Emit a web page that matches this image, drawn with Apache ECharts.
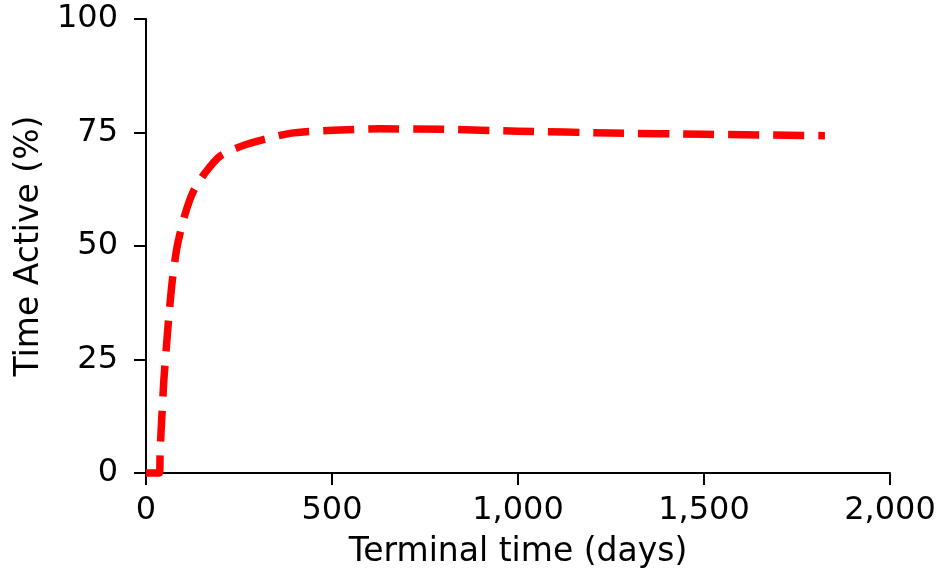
<!DOCTYPE html>
<html><head><meta charset="utf-8">
<script src="https://cdn.jsdelivr.net/npm/echarts@6/dist/echarts.min.js"></script>
<style>html,body{margin:0;padding:0;background:#fff}#c{width:940px;height:578px}</style>
</head><body><div id="c"></div>
<script>
const days = [0, 36, 38, 43, 48, 55, 62, 71, 84, 105, 127, 158, 199, 271, 387, 503, 629, 800, 1000, 1250, 1500, 1825];
const timeActive = [0, 0, 5, 13, 20.5, 28, 35, 42.6, 50, 57, 62, 66, 69.8, 72.4, 74.8, 75.5, 75.8, 75.7, 75.3, 74.9, 74.6, 74.3];
const xTicks = [0, 500, 1000, 1500, 2000];
const yTicks = [0, 25, 50, 75, 100];

const font = 'DejaVu Sans';
const chart = echarts.init(document.getElementById('c'), null, {renderer: 'canvas'});
chart.setOption({
  animation: false,
  backgroundColor: '#fff',
  grid: {left: 146, right: 50, top: 19, bottom: 105, containLabel: false},
  xAxis: {
    type: 'value', min: xTicks[0], max: xTicks[xTicks.length - 1], interval: 500,
    name: 'Terminal time (days)', nameLocation: 'middle', nameGap: 63,
    nameTextStyle: {fontFamily: font, fontSize: 33, color: '#000'},
    axisLine: {show: true, onZero: false, lineStyle: {color: '#000', width: 2}},
    axisTick: {show: true, length: 12, lineStyle: {color: '#000', width: 2}},
    axisLabel: {margin: 22, fontFamily: font, fontSize: 32, color: '#000',
      formatter: v => v.toLocaleString('en-US')},
    splitLine: {show: false}
  },
  yAxis: {
    type: 'value', min: yTicks[0], max: yTicks[yTicks.length - 1], interval: 25,
    name: 'Time Active (%)', nameLocation: 'middle', nameGap: 100, nameRotate: 90,
    nameTextStyle: {fontFamily: font, fontSize: 33, color: '#000'},
    axisLine: {show: true, onZero: false, lineStyle: {color: '#000', width: 2}},
    axisTick: {show: true, length: 12, lineStyle: {color: '#000', width: 2}},
    axisLabel: {margin: 28, fontFamily: font, fontSize: 32, color: '#000'},
    splitLine: {show: false}
  },
  series: [{
    type: 'line',
    data: days.map((d, i) => [d, timeActive[i]]),
    showSymbol: false,
    smooth: 0.25,
    clip: false,
    lineStyle: {color: '#ff0000', width: 7.5, type: [31, 14], cap: 'butt', join: 'round'}
  }]
});
</script></body></html>
